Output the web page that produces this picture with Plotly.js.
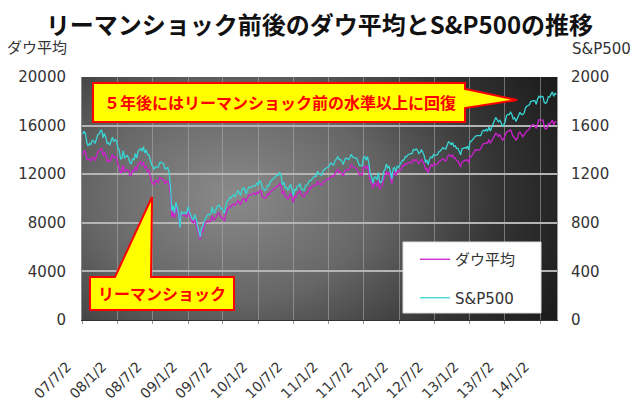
<!DOCTYPE html>
<html><head><meta charset="utf-8">
<script src="https://cdn.plot.ly/plotly-3.0.1.min.js"></script>
<style>
html,body{margin:0;padding:0;background:#fff;}
#bg{position:absolute;left:82px;top:77px;width:475px;height:243px;z-index:0;
background:radial-gradient(ellipse 360px 260px at 150px 120px,#8a8a8a 0%,#666 40%,#333 75%,#1c1c1c 100%);}
#chart{position:absolute;left:0;top:0;width:640px;height:402px;z-index:1;}
</style></head>
<body>
<div id="bg"></div>
<div id="chart"></div>
<script>
// Weekly closes (Fridays) starting 2007-07-06
const firstWeek = '2007-07-06';
const dow2007 = [13611,13908,13851,13266,13182,13239,13079,13379,13358,13113,13442,13820,13896,14066,14093,13522,13806,13595,13042,13177,12980,13372,13625,13340,13450,13366];
const dow2008 = [12800,12606,12099,12207, 12743,12182,12348,12381,12266, 11894,11951,12361,12216, 12610,12325,12849,12891, 13058,12745,12986,12480,12638, 12210,12307,11843,11346, 11288,11100,11496,11370, 11326,11734,11659,11628,11543, 11220,11421,11388,11143, 10325,8451,8852,8378,9325, 8943,8497,7700,8829, 8635,8629,8579,8515];
const dow2009 = [9034,8599,8281,8077,8001, 8280,7850,7365,7063, 6627,7224,7278,7776, 8018,8083,8131,8076, 8212,8575,8268,8277,8500, 8763,8799,8539,8438, 8280,8146,8743,9093,9171, 9370,9321,9505,9544, 9441,9605,9820,9665, 9487,9865,9995,9972,9713, 10023,10270,10318,10310, 10388,10471,10329,10520];
const dow2010 = [10428,10618,10610,10172,10067, 10012,10099,10402,10325, 10566,10625,10742,10851, 10927,10997,11019,11204,11009, 10380,10620,10193,10137, 9931,10212,10450,10144, 9686,10198,10097,10425,10466, 10654,10303,10213,10150, 10448,10462,10608,10860, 10830,11006,11063,11133,11118, 11445,11193,11204,11092, 11382,11410,11492,11573,11578];
const dow2011 = [11675,11787,11872,11824, 12092,12273,12391,12130, 12170,12044,11859,12221, 12377,12380,12342,12506,12811, 12638,12596,12512,12441, 12151,11952,12004,11934, 12582,12657,12480,12681,12143, 11445,11269,10818,11285, 11240,10992,11510,10771,10913, 11103,11644,11809,12231, 11983,12153,11796,11231, 12019,12184,11867,12294,12218];
const dow2012 = [12360,12422,12720,12660, 12862,12801,12950,12983, 12978,12922,13233,13081,13212, 13060,12850,13029,13228, 13038,12821,12369,12454, 12119,12554,12767,12640,12880, 12772,12777,12822,13076, 13096,13207,13275,13158,13090, 13306,13593,13579,13437, 13610,13328,13343,13107, 13093,12815,12588,13010,13026, 13155,13135,13190,12938];
const dow2013 = [13435,13488,13650,13896, 14010,13993,13982,14001, 14090,14397,14515,14512,14579, 14565,14865,14547,14712, 14974,15118,15354,15303,15116, 15248,15070,14800,14910, 15136,15464,15544,15559, 15658,15425,15081,15010,14810, 14922,15376,15452,15258, 15072,15237,15400,15570, 15615,15761,15962,16064,16086, 16020,15755,16221,16479];
const dow2014 = [16470,16437,16458,15880,15699, 15794,16154,16104,16322, 16453,16066,16303,16323];

const sp2007 = [1530,1553,1534,1459,1433,1453,1445,1479,1474,1453,1484,1525,1527,1557,1561,1500,1535,1509,1453,1458,1440,1481,1504,1468,1484,1478];
const sp2008 = [1411,1401,1325,1330, 1395,1331,1349,1353,1331, 1294,1288,1330,1316, 1370,1332,1390,1398, 1414,1389,1426,1375,1400, 1361,1360,1318,1278, 1262,1240,1261,1257, 1260,1296,1298,1292,1283, 1242,1252,1255,1213, 1099,899,940,877,968, 930,873,760,896, 876,879,887,873];
const sp2009 = [932,890,850,832,826, 869,827,770,735, 683,757,768,816, 843,857,870,866, 878,930,883,887,919, 940,946,921,918, 896,880,940,979,987, 1010,1005,1026,1029, 1016,1042,1068,1044, 1025,1072,1087,1080,1036, 1069,1093,1091,1091, 1106,1106,1102,1127];
const sp2010 = [1115,1145,1136,1092,1074, 1066,1075,1109,1105, 1139,1150,1160,1167, 1179,1194,1192,1217,1187, 1111,1136,1088,1089, 1065,1092,1117,1076, 1023,1078,1065,1102,1102, 1122,1079,1071,1065, 1105,1110,1125,1149, 1146,1166,1176,1183,1183, 1225,1199,1200,1190, 1224,1240,1244,1257,1258];
const sp2011 = [1272,1293,1283,1276, 1311,1329,1343,1320, 1321,1304,1279,1314, 1332,1328,1320,1337,1364, 1340,1338,1333,1331, 1300,1271,1271,1268, 1340,1344,1316,1345,1292, 1199,1179,1124,1177, 1174,1154,1216,1136,1131, 1155,1225,1238,1285, 1253,1263,1216,1159, 1244,1255,1219,1265,1258];
const sp2012 = [1278,1289,1315,1316, 1345,1343,1361,1366, 1370,1371,1404,1397,1408, 1398,1370,1378,1403, 1369,1353,1295,1318, 1278,1325,1343,1335,1362, 1355,1357,1363,1386, 1391,1406,1418,1411,1407, 1438,1466,1460,1441, 1461,1429,1433,1412, 1414,1380,1359,1409,1416, 1418,1413,1430,1402];
const sp2013 = [1466,1472,1486,1503, 1513,1518,1520,1516, 1518,1551,1561,1556,1569, 1553,1588,1555,1582, 1614,1634,1667,1650,1631, 1643,1626,1593,1606, 1632,1680,1692,1691, 1710,1691,1655,1664,1633, 1655,1688,1710,1692, 1691,1703,1745,1759, 1762,1771,1798,1804,1806, 1805,1775,1818,1841];
const sp2014 = [1831,1842,1838,1790,1783, 1797,1838,1836,1859, 1878,1841,1866,1857];

const tickDates = ['2007-07-02','2008-01-02','2008-07-02','2009-01-02','2009-07-02','2010-01-02','2010-07-02','2011-01-02','2011-07-02','2012-01-02','2012-07-02','2013-01-02','2013-07-02','2014-01-02'];
const tickLabels = ['07/7/2','08/1/2','08/7/2','09/1/2','09/7/2','10/1/2','10/7/2','11/1/2','11/7/2','12/1/2','12/7/2','13/1/2','13/7/2','14/1/2'];
const leftTicks = [0,4000,8000,12000,16000,20000];
const rightTicks = [0,400,800,1200,1600,2000];
const seriesNames = ['ダウ平均','S&P500'];

const dow = [].concat(dow2007,dow2008,dow2009,dow2010,dow2011,dow2012,dow2013,dow2014);
const sp = [].concat(sp2007,sp2008,sp2009,sp2010,sp2011,sp2012,sp2013,sp2014);
const dates = [];
const d0 = new Date(firstWeek + 'T00:00:00Z');
for (let i = 0; i < dow.length; i++) {
  dates.push(new Date(d0.getTime() + i*7*86400000).toISOString().slice(0,10));
}

// plot area in pixels
const L=82, R=557, T=77, B=320, W=R-L, H=B-T;
const px = x => (x-L)/W, py = y => (B-y)/H;
const path = pts => 'M' + pts.map(p => px(p[0]).toFixed(4)+','+py(p[1]).toFixed(4)).join(' L') + ' Z';

const jp = 'Noto Sans CJK JP';
const num = 'DejaVu Sans, Noto Sans CJK JP';

const traces = [
  {x: dates, y: dow, name: seriesNames[0], type:'scatter', mode:'lines', yaxis:'y',
   line:{color:'#cf1fcf', width:1.3}, legendgroup:'a'},
  {x: dates, y: sp, name: seriesNames[1], type:'scatter', mode:'lines', yaxis:'y2',
   line:{color:'#3ad6d6', width:1.3}, legendgroup:'b'}
];

const layout = {
  width:640, height:402,
  margin:{l:L, r:640-R, t:T, b:402-B, pad:0},
  paper_bgcolor:'rgba(0,0,0,0)', plot_bgcolor:'rgba(0,0,0,0)',
  title:{text:'リーマンショック前後のダウ平均とS&P500の推移', x:0.5, xref:'paper', y:1-26/402, yref:'container', yanchor:'middle',
    font:{family:jp, size:24, color:'#111', weight:700}},
  xaxis:{type:'date', range:['2007-07-02','2014-03-31'], tickvals:tickDates, ticktext:tickLabels,
    tickangle:-45, tickfont:{family:num, size:14, color:'#333'}, ticklabelstandoff:29, ticklabelshift:-15,
    showgrid:true, gridcolor:'rgba(175,175,175,0.55)', gridwidth:1,
    showline:true, linecolor:'#333', linewidth:1, ticks:'outside', ticklen:3, tickcolor:'#999',
    zeroline:false, fixedrange:true},
  yaxis:{range:[0,20000], tickvals:leftTicks, tickformat:'d', tickfont:{family:num, size:15, color:'#333'},
    showgrid:true, gridcolor:'#b4b4b4', gridwidth:2, zeroline:false,
    showline:true, linecolor:'#8a8a8a', linewidth:1, ticks:'', ticklabelstandoff:12, fixedrange:true},
  yaxis2:{range:[0,2000], tickvals:rightTicks, tickformat:'d', overlaying:'y', side:'right', anchor:'x',
    tickfont:{family:num, size:15, color:'#333'}, showgrid:false, zeroline:false,
    showline:true, linecolor:'#9a9a9a', linewidth:1, ticks:'', ticklabelstandoff:10, fixedrange:true},
  showlegend:true,
  legend:{x:px(415), y:py(243), xanchor:'left', yanchor:'top', bgcolor:'rgba(0,0,0,0)', borderwidth:0,
    font:{family:num, size:15, color:'#333'}, traceorder:'grouped', tracegroupgap:16},
  shapes:[
    {type:'rect', xref:'paper', yref:'paper', x0:px(403), x1:px(541), y0:py(313), y1:py(242),
     fillcolor:'#ffffff', line:{color:'#dddddd', width:1}, layer:'above'},
    {type:'path', xref:'paper', yref:'paper', layer:'above', fillcolor:'#ffff00', line:{color:'#ff0000', width:2},
     path: path([[93,83],[465,83],[465,89],[517,100],[465,108],[465,122],[93,122]])},
    {type:'path', xref:'paper', yref:'paper', layer:'above', fillcolor:'#ffff00', line:{color:'#ff0000', width:2},
     path: path([[90,277],[115,277],[152,197],[151,277],[234,277],[234,310],[90,310]])}
  ],
  annotations:[
    {text:'５年後にはリーマンショック前の水準以上に回復', xref:'paper', yref:'paper', x:px(280), y:py(102),
     xanchor:'center', yanchor:'middle',
     showarrow:false, font:{family:jp, size:16, color:'#ff0000', weight:700}},
    {text:'リーマンショック', xref:'paper', yref:'paper', x:px(162), y:py(293),
     xanchor:'center', yanchor:'middle',
     showarrow:false, font:{family:jp, size:16, color:'#ff0000', weight:700}},
    {text:'ダウ平均', xref:'paper', yref:'paper', x:px(5), y:py(48), xanchor:'left', yanchor:'middle',
     showarrow:false, font:{family:num, size:15, color:'#333'}},
    {text:'S&P500', xref:'paper', yref:'paper', x:px(570), y:py(49), xanchor:'left', yanchor:'middle',
     showarrow:false, font:{family:num, size:15, color:'#333'}}
  ]
};

Plotly.newPlot('chart', traces, layout, {staticPlot:true, displayModeBar:false});
</script>
</body></html>
